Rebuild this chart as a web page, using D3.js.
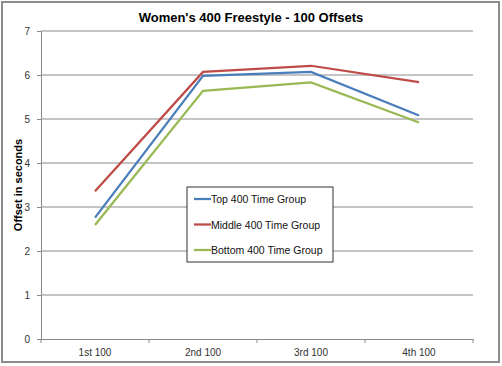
<!DOCTYPE html>
<html>
<head>
<meta charset="utf-8">
<script src="https://cdn.jsdelivr.net/npm/d3@7"></script>
<style>
  body { margin: 0; background: #fff; }
  text { font-family: "Liberation Sans", Arial, sans-serif; }
</style>
</head>
<body>
<svg width="502" height="366"></svg>
<script>
var categories = ["1st 100", "2nd 100", "3rd 100", "4th 100"];
var seriesNames = ["Top 400 Time Group", "Middle 400 Time Group", "Bottom 400 Time Group"];
var topGroup = [2.76, 5.98, 6.07, 5.08];
var middleGroup = [3.36, 6.07, 6.21, 5.84];
var bottomGroup = [2.59, 5.64, 5.83, 4.92];
var colors = ["#4a7ebb", "#be4b48", "#98b954"];
var yTicks = [0, 1, 2, 3, 4, 5, 6, 7];

var series = [topGroup, middleGroup, bottomGroup];

var margin = {top: 31, left: 41};
var plotW = 432, plotH = 308;

var svg = d3.select("svg");

// outer border
svg.append("rect")
	.attr("x", 2).attr("y", 2)
	.attr("width", 497).attr("height", 360)
	.attr("fill", "#fefffe")
	.attr("stroke", "#8c8c8c")
	.attr("stroke-width", 2);

var g = svg.append("g")
	.attr("transform", "translate(" + margin.left + "," + margin.top + ")");

var x = d3.scaleBand().domain(categories).range([0, plotW]);
var y = d3.scaleLinear().domain([0, 7]).range([plotH, 0]);

// gridlines
g.selectAll("line.grid")
	.data(yTicks.slice(1))
	.enter().append("line")
	.attr("class", "grid")
	.attr("x1", 0).attr("x2", plotW)
	.attr("y1", function(d) { return y(d); })
	.attr("y2", function(d) { return y(d); })
	.attr("stroke", "#8a8a8a")
	.attr("stroke-width", 1);

// y axis
var yAxis = g.append("g")
	.call(d3.axisLeft(y).tickValues(yTicks).tickFormat(d3.format("d")).tickSize(4).tickPadding(7));
yAxis.select(".domain").attr("stroke", "#8a8a8a");
yAxis.selectAll(".tick line").attr("stroke", "#8a8a8a");
yAxis.selectAll(".tick text")
	.attr("fill", "#333")
	.style("font-size", "10px");

// x axis
var xAxis = g.append("g")
	.attr("transform", "translate(0," + plotH + ")")
	.call(d3.axisBottom(x).tickSize(0).tickPadding(10));
xAxis.select(".domain").attr("stroke", "#8a8a8a");
xAxis.selectAll(".tick text")
	.attr("fill", "#333")
	.style("font-size", "10px");
// ticks between categories
xAxis.selectAll("line.sep")
	.data(d3.range(categories.length + 1))
	.enter().append("line")
	.attr("class", "sep")
	.attr("x1", function(i) { return i * x.step(); })
	.attr("x2", function(i) { return i * x.step(); })
	.attr("y1", 0).attr("y2", 4)
	.attr("stroke", "#8a8a8a");

// lines
var line = d3.line()
	.x(function(d, i) { return x(categories[i]) + x.bandwidth() / 2; })
	.y(function(d) { return y(d); });

series.forEach(function(s, i) {
	g.append("path")
		.datum(s)
		.attr("d", line)
		.attr("fill", "none")
		.attr("stroke", colors[i])
		.attr("stroke-width", 2.25);
});

// title
svg.append("text")
	.attr("x", 251).attr("y", 22)
	.attr("text-anchor", "middle")
	.style("font-size", "13px")
	.style("font-weight", "bold")
	.text("Women's 400 Freestyle - 100 Offsets");

// y label
svg.append("text")
	.attr("transform", "translate(22,185) rotate(-90)")
	.attr("text-anchor", "middle")
	.style("font-size", "11px")
	.style("font-weight", "bold")
	.text("Offset in seconds");

// legend
var legend = svg.append("g").attr("transform", "translate(187,187)");
legend.append("rect")
	.attr("width", 146).attr("height", 75)
	.attr("fill", "#fff")
	.attr("stroke", "#333")
	.attr("stroke-width", 1);
seriesNames.forEach(function(name, i) {
	var row = legend.append("g").attr("transform", "translate(0," + (12 + i * 25.5) + ")");
	row.append("line")
		.attr("x1", 7).attr("x2", 24)
		.attr("stroke", colors[i]).attr("stroke-width", 2.25);
	row.append("text")
		.attr("x", 24).attr("y", 4)
		.style("font-size", "10.5px")
		.attr("fill", "#111")
		.text(name);
});
</script>
</body>
</html>
